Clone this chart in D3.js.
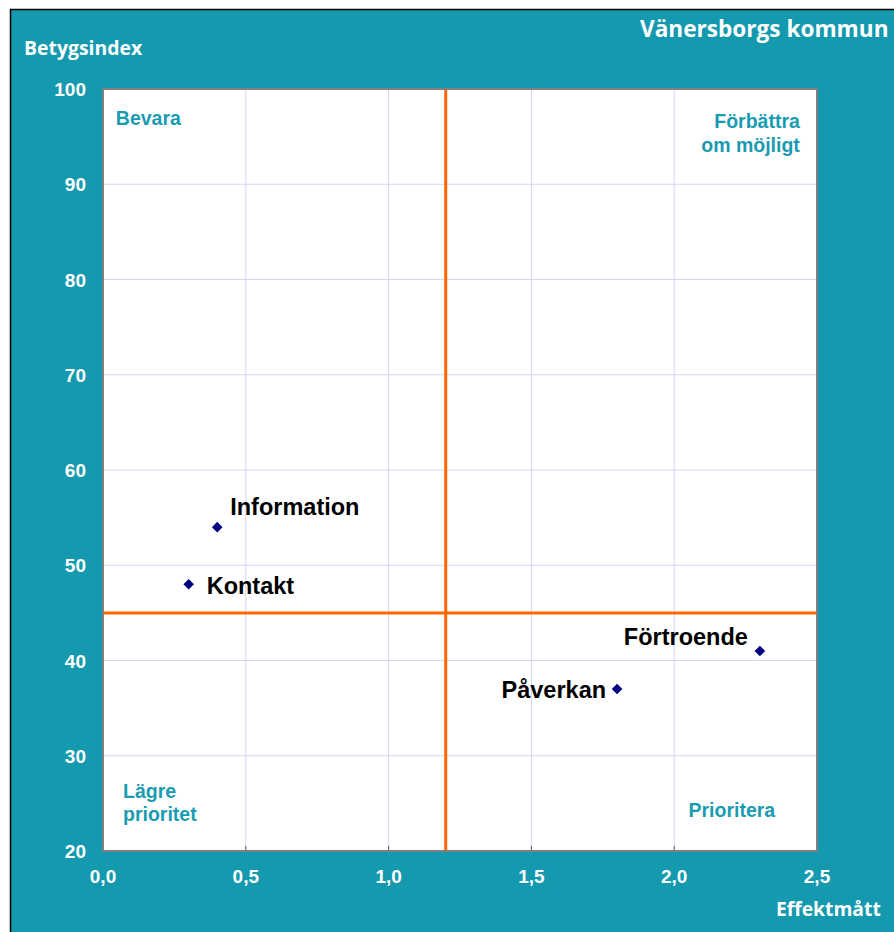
<!DOCTYPE html>
<html><head><meta charset="utf-8">
<script src="https://cdn.jsdelivr.net/npm/d3@7"></script>
<style>body{margin:0;background:#fff}svg{display:block}</style>
</head><body>
<script>
const names = ["Information","Kontakt","Förtroende","Påverkan"];
const effekt = [0.4, 0.3, 2.3, 1.8];
const betyg = [54, 48, 41, 37];
const xTicks = [0,0.5,1.0,1.5,2.0,2.5];
const yTicks = [20,30,40,50,60,70,80,90,100];
const xCross = 1.2, yCross = 45;
const quadrants = [
  {lines:["Bevara"], x:0.045, y:96.2, anchor:"start"},
  {lines:["Förbättra","om möjligt"], x:2.44, y:95.9, anchor:"end"},
  {lines:["Lägre","prioritet"], x:0.07, y:25.6, anchor:"start"},
  {lines:["Prioritera"], x:2.05, y:23.6, anchor:"start"}
];
// label offsets (pixels, baseline) relative to point
const labelPos = [
  {dx:13, dy:-12, anchor:"start"},
  {dx:18, dy:10, anchor:"start"},
  {dx:-12, dy:-6, anchor:"end"},
  {dx:-11, dy:9, anchor:"end"}
];

const W=894,H=932;
const teal="#1499AF";
const svg=d3.select("body").append("svg").attr("width",W).attr("height",H);
svg.append("rect").attr("x",10.5).attr("y",9.5).attr("width",W).attr("height",H)
  .attr("fill",teal).attr("stroke","#000").attr("stroke-width",1.5);

const x=d3.scaleLinear().domain([0,2.5]).range([103,817]);
const y=d3.scaleLinear().domain([20,100]).range([851,89]);

svg.append("rect").attr("x",x(0)).attr("y",y(100)).attr("width",x(2.5)-x(0)).attr("height",y(20)-y(100))
  .attr("fill","#fff");

const g=svg.append("g");
g.selectAll(".vx").data(xTicks.slice(1,-1)).join("line")
  .attr("x1",d=>x(d)).attr("x2",d=>x(d)).attr("y1",y(100)).attr("y2",y(20))
  .attr("stroke","#d4d4fa").attr("stroke-width",1);
g.selectAll(".hy").data(yTicks.slice(1,-1)).join("line")
  .attr("y1",d=>y(d)).attr("y2",d=>y(d)).attr("x1",x(0)).attr("x2",x(2.5))
  .attr("stroke","#d4d4fa").attr("stroke-width",1);
g.selectAll(".tk").data(xTicks.slice(1,-1)).join("line")
  .attr("x1",d=>x(d)).attr("x2",d=>x(d)).attr("y1",y(20)-5).attr("y2",y(20))
  .attr("stroke","#555").attr("stroke-width",1);

g.append("line").attr("x1",x(xCross)).attr("x2",x(xCross)).attr("y1",y(100)).attr("y2",y(20))
  .attr("stroke","#FF6600").attr("stroke-width",3);
g.append("line").attr("x1",x(0)).attr("x2",x(2.5)).attr("y1",y(yCross)).attr("y2",y(yCross))
  .attr("stroke","#FF6600").attr("stroke-width",3);

svg.append("rect").attr("x",x(0)).attr("y",y(100)).attr("width",x(2.5)-x(0)).attr("height",y(20)-y(100))
  .attr("fill","none").attr("stroke","#808080").attr("stroke-width",2);

const fmt=d=>d.toFixed(1).replace(".",",");
svg.selectAll(".xl").data(xTicks).join("text")
  .attr("x",d=>x(d)).attr("y",883).attr("text-anchor","middle")
  .attr("font-family","Liberation Sans, Arial, sans-serif").attr("font-weight","bold")
  .attr("font-size",19).attr("fill","#fff").text(fmt);
svg.selectAll(".yl").data(yTicks).join("text")
  .attr("x",86).attr("y",d=>y(d)+7).attr("text-anchor","end")
  .attr("font-family","Liberation Sans, Arial, sans-serif").attr("font-weight","bold")
  .attr("font-size",19).attr("fill","#fff").text(d=>d);

svg.append("text").attr("x",24).attr("y",55).attr("font-family","Open Sans, sans-serif")
  .attr("font-weight","bold").attr("font-size",19.4).attr("fill","#fff").text("Betygsindex");
svg.append("text").attr("x",640).attr("y",37).attr("font-family","Open Sans, sans-serif")
  .attr("font-weight","bold").attr("font-size",22.6).attr("fill","#fff").text("Vänersborgs kommun");
svg.append("text").attr("x",776).attr("y",916).attr("font-family","Open Sans, sans-serif")
  .attr("font-weight","bold").attr("font-size",19.3).attr("fill","#fff").text("Effektmått");

quadrants.forEach(q=>{
  const t=svg.append("text").attr("x",x(q.x)).attr("y",y(q.y)).attr("text-anchor",q.anchor)
    .attr("font-family","Liberation Sans, Arial, sans-serif").attr("font-weight","bold")
    .attr("font-size",19.5).attr("fill","#1A9BB2");
  q.lines.forEach((l,i)=>t.append("tspan").attr("x",x(q.x)).attr("dy",i?23.5:0).text(l));
});

const data=names.map((n,i)=>({n,ex:effekt[i],by:betyg[i],lp:labelPos[i]}));
svg.selectAll(".pt").data(data).join("path")
  .attr("d",d3.symbol(d3.symbolSquare,56))
  .attr("transform",d=>`translate(${x(d.ex)},${y(d.by)}) rotate(45)`)
  .attr("fill","#000080");
svg.selectAll(".pl").data(data).join("text")
  .attr("x",d=>x(d.ex)+d.lp.dx).attr("y",d=>y(d.by)+d.lp.dy)
  .attr("text-anchor",d=>d.lp.anchor)
  .attr("font-family","Liberation Sans, Arial, sans-serif").attr("font-weight","bold")
  .attr("font-size",23.5).attr("fill","#000").text(d=>d.n);
</script>
</body></html>
